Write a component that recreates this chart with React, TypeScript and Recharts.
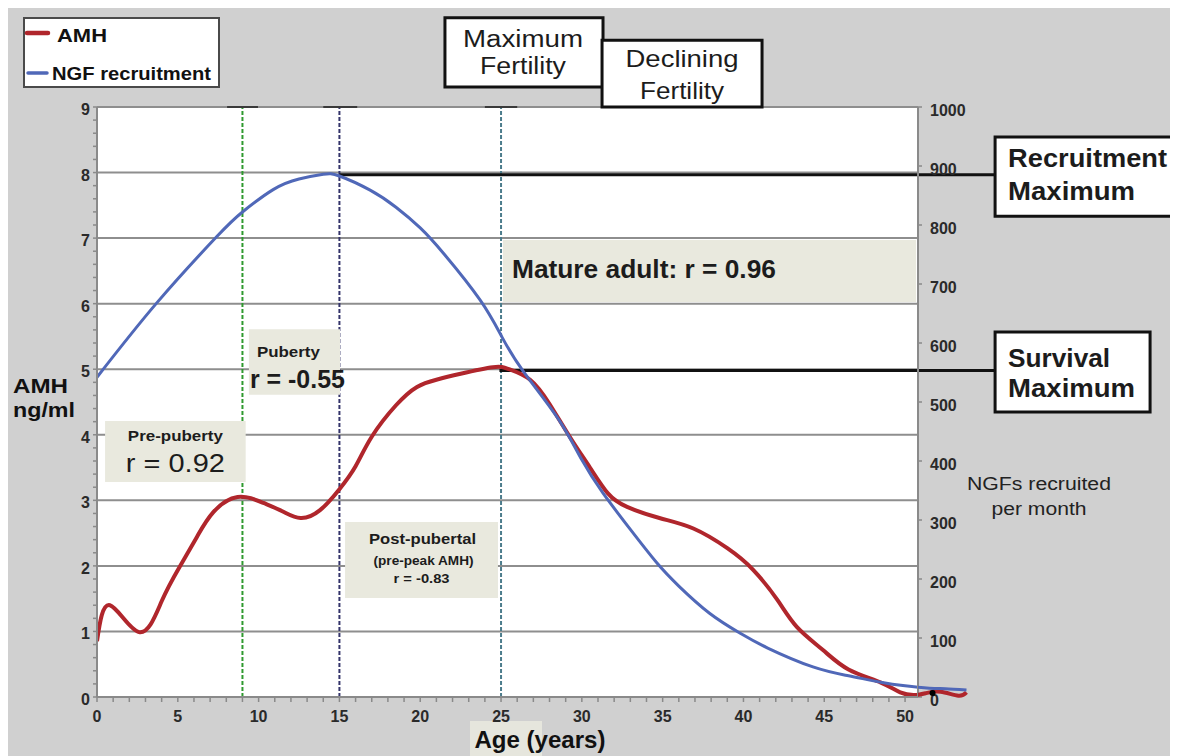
import React from 'react';
import {
  ComposedChart,
  Line,
  XAxis,
  YAxis,
  CartesianGrid,
  ReferenceLine,
  ReferenceArea,
  ReferenceDot,
  Legend,
} from 'recharts';

// ---------------- data ----------------
const amhAges = [0, 0.8, 2.6, 4, 5.1, 6.2, 7.2, 8.7, 10.3, 11.5, 12.6, 13.8, 15, 16, 17, 18.5, 19.8, 21, 22.5, 24.5, 25.5, 26.8, 28, 29.3, 30.5, 31.6, 32.8, 34.8, 36.9, 39, 40.6, 42.1, 43.3, 44.9, 46.5, 48.5, 49.7, 50.6, 51.3, 52.2, 53.3, 53.8];
const amhValues = [0.85, 1.4, 0.99, 1.46, 1.98, 2.45, 2.82, 3.05, 2.96, 2.83, 2.73, 2.85, 3.17, 3.52, 3.97, 4.45, 4.73, 4.84, 4.93, 5.03, 5.0, 4.84, 4.47, 3.95, 3.5, 3.11, 2.9, 2.73, 2.57, 2.27, 1.94, 1.48, 1.07, 0.72, 0.42, 0.22, 0.07, 0.03, 0.06, 0.08, 0.02, 0.07];

const ngfAges = [0, 3.7, 7.4, 9, 10.9, 12.5, 14, 15, 16.9, 18.5, 20, 21.5, 23.7, 25.06, 26.4, 28.5, 30, 31.3, 33, 34.65, 36, 37.9, 39.8, 41.5, 44.3, 46.5, 48.5, 50, 51.5, 52.5, 53.8];
const ngfValues = [542, 668, 780, 822, 860, 878, 886, 883, 859, 830, 795, 750, 673, 610, 551, 473, 402, 346, 284, 227, 188, 142, 108, 83, 51, 36, 25, 19, 15, 14, 12];

const ageTickLabels = [0, 5, 10, 15, 20, 25, 30, 35, 40, 45, 50];
const amhTickLabels = [0, 1, 2, 3, 4, 5, 6, 7, 8, 9];
const ngfTickLabels = [0, 100, 200, 300, 400, 500, 600, 700, 800, 900, 1000];

const stageAges = [9, 15, 25]; // vertical markers
const stageColors = ['#2f9a2f', '#34346a', '#4c7c8c'];
const stageRanges = [[8.05, 9.96], [14.0, 16.1], [24.0, 26.0]];

const recruitmentMax = { age: 15, ngf: 885 };
const survivalMax = { age: 24.9, amh: 4.98 };
const endMarker = { age: 51.7, amh: 0.06 };

// derived tables
const amhData = amhAges.map((a, i) => ({ age: a, amh: amhValues[i] }));
const ngfData = ngfAges.map((a, i) => ({ age: a, ngf: ngfValues[i] }));
const ageMinorTicks = Array.from({ length: 51 }, (_, i) => i);
const amhMinorTicks = Array.from({ length: 46 }, (_, i) => Math.round(i * 2) / 10);

// ---------------- layout ----------------
const FONT = '"Liberation Sans", Arial, Helvetica, sans-serif';
const CW = 1170;
const CH = 748;
const PLOT_LEFT = 89;
const PLOT_W = 821;
const AGE_MAX = 50.8;
const OVER_AGE_MAX = 54;
const PX_PER_YEAR = PLOT_W / AGE_MAX;
const PX_PER_AMH = 590 / 9;
const MARGIN_TOP = 99;
const MARGIN_BOTTOM_TOTAL = 59;
const OVER_AMH_MIN = -0.5;

type TL = { text: string; dx: number; dy: number; size: number; bold?: boolean; anchor?: 'start' | 'middle'; len?: number };

function boxText(lines: TL[]) {
  return (props: any) => {
    const vb = props.viewBox || {};
    const x0 = vb.x ?? 0;
    const y0 = vb.y ?? 0;
    const w = vb.width ?? 0;
    return (
      <g>
        {lines.map((l, i) => (
          <text
            key={i}
            x={l.anchor === 'middle' ? x0 + w / 2 + l.dx : x0 + l.dx}
            y={y0 + l.dy}
            textAnchor={l.anchor === 'middle' ? 'middle' : 'start'}
            fontFamily={FONT}
            fontSize={l.size}
            fontWeight={l.bold ? 700 : 400}
            fill="#1c1c1c"
            {...(l.len ? { textLength: l.len, lengthAdjust: 'spacingAndGlyphs' } : {})}
          >
            {l.text}
          </text>
        ))}
      </g>
    );
  };
}

type Box = { x1: number; x2: number; y1: number; y2: number; axis: string | number; fill: string; stroke?: string; lines: TL[] };

const beige = '#e9e9de';
const boxes: Box[] = [
  {
    x1: 25.12, x2: 50.68, y1: 6.025, y2: 6.97, axis: 0, fill: beige,
    lines: [{ text: 'Mature adult: r = 0.96', dx: 9, dy: 38, size: 25, bold: true, len: 264 }],
  },
  {
    x1: 0.5, x2: 9.2, y1: 3.28, y2: 4.21, axis: 0, fill: beige,
    lines: [
      { text: 'Pre-puberty', dx: 0, dy: 20, size: 15, bold: true, anchor: 'middle', len: 95 },
      { text: 'r = 0.92', dx: 0, dy: 51, size: 25, anchor: 'middle', len: 99 },
    ],
  },
  {
    x1: 9.4, x2: 15.04, y1: 4.61, y2: 5.61, axis: 0, fill: beige,
    lines: [
      { text: 'Puberty', dx: 8, dy: 28, size: 15, bold: true, len: 63 },
      { text: 'r = -0.55', dx: 1, dy: 59, size: 25, bold: true, len: 95 },
    ],
  },
  {
    x1: 15.35, x2: 24.81, y1: 1.51, y2: 2.67, axis: 0, fill: beige,
    lines: [
      { text: 'Post-pubertal', dx: 1, dy: 22, size: 15, bold: true, anchor: 'middle', len: 107 },
      { text: '(pre-peak AMH)', dx: 2, dy: 43, size: 12, bold: true, anchor: 'middle', len: 100 },
      { text: 'r = -0.83', dx: 0, dy: 61, size: 12, bold: true, anchor: 'middle', len: 56 },
    ],
  },
  {
    x1: 21.53, x2: 31.31, y1: 9.305, y2: 10.36, axis: 0, fill: '#ffffff', stroke: '#111111',
    lines: [
      { text: 'Maximum', dx: -1, dy: 29, size: 23, anchor: 'middle', len: 120 },
      { text: 'Fertility', dx: -1, dy: 56, size: 23, anchor: 'middle', len: 86 },
    ],
  },
  {
    x1: 31.25, x2: 41.15, y1: 9.0, y2: 10.02, axis: 0, fill: '#ffffff', stroke: '#111111',
    lines: [
      { text: 'Declining', dx: 0, dy: 27, size: 24, anchor: 'middle', len: 113 },
      { text: 'Fertility', dx: 0, dy: 59, size: 24, anchor: 'middle', len: 84 },
    ],
  },
  {
    x1: 55.57, x2: 68, y1: 815, y2: 949, axis: 'right', fill: '#ffffff', stroke: '#111111',
    lines: [
      { text: 'Recruitment', dx: 13, dy: 30, size: 25, bold: true, len: 159 },
      { text: 'Maximum', dx: 13, dy: 63, size: 25, bold: true, len: 127 },
    ],
  },
  {
    x1: 55.57, x2: 65.16, y1: 483, y2: 618.6, axis: 'right', fill: '#ffffff', stroke: '#111111',
    lines: [
      { text: 'Survival', dx: 13, dy: 35, size: 25, bold: true, len: 102 },
      { text: 'Maximum', dx: 13, dy: 65, size: 25, bold: true, len: 127 },
    ],
  },
];

const tickFill = '#2a2a2a';
const axisGray = '#8a8a8a';

const AgeTick = (props: any) => {
  const { x, y, payload } = props;
  const v = payload?.value;
  if (!ageTickLabels.includes(v)) return <g />;
  return (
    <text x={x} y={y} dy={17} textAnchor="middle" fontFamily={FONT} fontSize={16} fontWeight={700} fill={tickFill}>
      {v}
    </text>
  );
};

const AmhTick = (props: any) => {
  const { x, y, payload } = props;
  const v = payload?.value;
  if (!amhTickLabels.some((t) => Math.abs(t - v) < 1e-6)) return <g />;
  return (
    <text x={x} y={y} dy={8} textAnchor="end" fontFamily={FONT} fontSize={16} fontWeight={700} fill={tickFill}>
      {Math.round(v)}
    </text>
  );
};

const NgfTick = (props: any) => {
  const { x, y, payload } = props;
  return (
    <text x={x} y={y} dy={9} textAnchor="start" fontFamily={FONT} fontSize={16} fontWeight={700} fill={tickFill}>
      {payload?.value}
    </text>
  );
};

const leftLabel = (props: any) => {
  const vb = props.viewBox || {};
  const x = (vb.x ?? 0) - 24;
  const y = vb.y ?? 0;
  return (
    <g>
      <text x={x} y={y + 286} fontFamily={FONT} fontSize={21} fontWeight={700} fill="#111" textLength={55} lengthAdjust="spacingAndGlyphs">AMH</text>
      <text x={x} y={y + 310} fontFamily={FONT} fontSize={21} fontWeight={700} fill="#111" textLength={62} lengthAdjust="spacingAndGlyphs">ng/ml</text>
    </g>
  );
};

const rightLabel = (props: any) => {
  const vb = props.viewBox || {};
  const x = (vb.x ?? 0) + 121;
  const y = vb.y ?? 0;
  return (
    <g>
      <text x={x} y={y + 383} textAnchor="middle" fontFamily={FONT} fontSize={18} fill="#222" textLength={144} lengthAdjust="spacingAndGlyphs">NGFs recruited</text>
      <text x={x} y={y + 408} textAnchor="middle" fontFamily={FONT} fontSize={18} fill="#222" textLength={95} lengthAdjust="spacingAndGlyphs">per month</text>
    </g>
  );
};

const bottomLabel = (props: any) => {
  const vb = props.viewBox || {};
  const x = (vb.x ?? 0) + 443;
  const y = (vb.y ?? 0) + 51;
  return (
    <g>
      <rect x={x - 70} y={y - 27} width={72} height={40} fill="#e6e6dd" />
      <text x={x} y={y} textAnchor="middle" fontFamily={FONT} fontSize={24} fontWeight={700} fill="#111" textLength={131} lengthAdjust="spacingAndGlyphs">Age (years)</text>
    </g>
  );
};

const LegendBox = (props: any) => {
  const payload = (props.payload || []).filter((p: any) => p.type !== 'none');
  const rows = [
    { lineY: 16, x1: 4, x2: 25, w: 4.5, tx: 34, ty: 25, len: 50 },
    { lineY: 56, x1: 5, x2: 24, w: 3.5, tx: 29, ty: 63, len: 159 },
  ];
  return (
    <svg width={197} height={71} style={{ display: 'block' }}>
      <rect x={1} y={1} width={195} height={69} fill="#ffffff" stroke="#4a4a4a" strokeWidth={2} />
      {payload.map((p: any, i: number) => {
        const r = rows[i] || rows[0];
        return (
          <g key={i}>
            <line x1={r.x1} x2={r.x2} y1={r.lineY} y2={r.lineY} stroke={p.color} strokeWidth={r.w} strokeLinecap="round" />
            <text x={r.tx} y={r.ty} fontFamily={FONT} fontSize={19} fontWeight={700} fill="#111" textLength={r.len} lengthAdjust="spacingAndGlyphs">
              {p.value}
            </text>
          </g>
        );
      })}
    </svg>
  );
};

const RED = '#b0262c';
const BLUE = '#5068b8';

export default function App() {
  // overlay: only the part of the curves beyond the right edge of the plot
  const overLeft = PLOT_LEFT + PLOT_W;
  const overRight = CW - overLeft - (OVER_AGE_MAX - AGE_MAX) * PX_PER_YEAR;
  const overBottom = MARGIN_BOTTOM_TOTAL + OVER_AMH_MIN * PX_PER_AMH;
  const overNgfMin = (OVER_AMH_MIN * 1000) / 9;
  return (
    <div style={{ position: 'relative', width: CW, height: CH, background: '#d0d0d0', fontFamily: FONT }}>
      {/* main chart */}
      <div style={{ position: 'absolute', left: 0, top: 0 }}>
        <ComposedChart width={CW} height={CH} margin={{ top: MARGIN_TOP, left: 29, right: 200, bottom: 29 }}>
          <CartesianGrid horizontal vertical={false} horizontalValues={amhTickLabels} stroke="#8e8e8e" strokeWidth={2} fill="#ffffff" />
          <XAxis
            type="number"
            dataKey="age"
            domain={[0, AGE_MAX]}
            allowDataOverflow
            ticks={ageMinorTicks}
            interval={0}
            tick={AgeTick}
            tickSize={5}
            tickMargin={3}
            height={30}
            stroke={axisGray}
            strokeWidth={2}
            tickLine={{ stroke: axisGray, strokeWidth: 1.5 }}
            label={bottomLabel}
          />
          <YAxis
            type="number"
            domain={[0, 9]}
            allowDataOverflow
            ticks={amhMinorTicks}
            interval={0}
            tick={AmhTick}
            tickSize={4}
            tickMargin={3}
            width={60}
            stroke={axisGray}
            strokeWidth={2}
            tickLine={{ stroke: axisGray, strokeWidth: 1.5 }}
            label={leftLabel}
          />
          <YAxis
            yAxisId="right"
            orientation="right"
            type="number"
            domain={[0, 1000]}
            allowDataOverflow
            ticks={ngfTickLabels}
            interval={0}
            tick={NgfTick}
            tickSize={4}
            tickMargin={8}
            width={60}
            stroke={axisGray}
            strokeWidth={2}
            tickLine={{ stroke: axisGray, strokeWidth: 1.5 }}
            label={rightLabel}
          />
          {stageAges.map((a, i) => (
            <ReferenceLine key={'v' + i} x={a} stroke={stageColors[i]} strokeWidth={2} strokeDasharray="4 2" zIndex={-60} />
          ))}
          {stageRanges.map((r, i) => (
            <ReferenceLine key={'c' + i} segment={[{ x: r[0], y: 9 }, { x: r[1], y: 9 }]} stroke="#3a3a3a" strokeWidth={2} ifOverflow="visible" />
          ))}
          {boxes.map((b, i) => (
            <ReferenceArea
              key={'b' + i}
              yAxisId={b.axis}
              x1={b.x1}
              x2={b.x2}
              y1={b.y1}
              y2={b.y2}
              fill={b.fill}
              fillOpacity={1}
              stroke={b.stroke ?? 'none'}
              strokeWidth={b.stroke ? 3 : 0}
              ifOverflow="visible"
              zIndex={-40}
              label={boxText(b.lines)}
            />
          ))}
          <ReferenceLine
            yAxisId="right"
            segment={[{ x: recruitmentMax.age, y: recruitmentMax.ngf }, { x: 55.57, y: recruitmentMax.ngf }]}
            stroke="#111111"
            strokeWidth={3}
            ifOverflow="visible"
          />
          <ReferenceLine
            segment={[{ x: survivalMax.age, y: survivalMax.amh }, { x: 55.57, y: survivalMax.amh }]}
            stroke="#111111"
            strokeWidth={3}
            ifOverflow="visible"
          />
          <Line
            data={amhData}
            dataKey="amh"
            name="AMH"
            type="natural"
            stroke={RED}
            strokeWidth={4}
            dot={false}
            activeDot={false}
            isAnimationActive={false}
          />
          <Line
            data={ngfData}
            dataKey="ngf"
            name="NGF recruitment"
            yAxisId="right"
            type="natural"
            stroke={BLUE}
            strokeWidth={3}
            dot={false}
            activeDot={false}
            isAnimationActive={false}
          />
          <Legend
            verticalAlign="middle"
            align="center"
            content={LegendBox}
            wrapperStyle={{ left: 15, top: 9, width: 197, height: 71 }}
          />
        </ComposedChart>
      </div>
      {/* overlay: the tails of the curves that run past the plot's right edge */}
      <div style={{ position: 'absolute', left: 0, top: 0, pointerEvents: 'none' }}>
        <ComposedChart width={CW} height={CH} margin={{ top: MARGIN_TOP, left: overLeft, right: overRight, bottom: overBottom }}>
          <XAxis type="number" dataKey="age" domain={[AGE_MAX, OVER_AGE_MAX]} allowDataOverflow hide height={0} />
          <YAxis type="number" domain={[OVER_AMH_MIN, 9]} allowDataOverflow hide width={0} />
          <YAxis yAxisId="right" type="number" domain={[overNgfMin, 1000]} allowDataOverflow hide width={0} />
          <Line
            data={amhData}
            dataKey="amh"
            name="AMH tail"
            legendType="none"
            type="natural"
            stroke={RED}
            strokeWidth={4}
            dot={false}
            activeDot={false}
            isAnimationActive={false}
          />
          <Line
            data={ngfData}
            dataKey="ngf"
            name="NGF tail"
            legendType="none"
            yAxisId="right"
            type="natural"
            stroke={BLUE}
            strokeWidth={3}
            dot={false}
            activeDot={false}
            isAnimationActive={false}
          />
          <ReferenceDot x={endMarker.age} y={endMarker.amh} r={3} fill="#000" stroke="none" ifOverflow="visible" />
        </ComposedChart>
      </div>
    </div>
  );
}
